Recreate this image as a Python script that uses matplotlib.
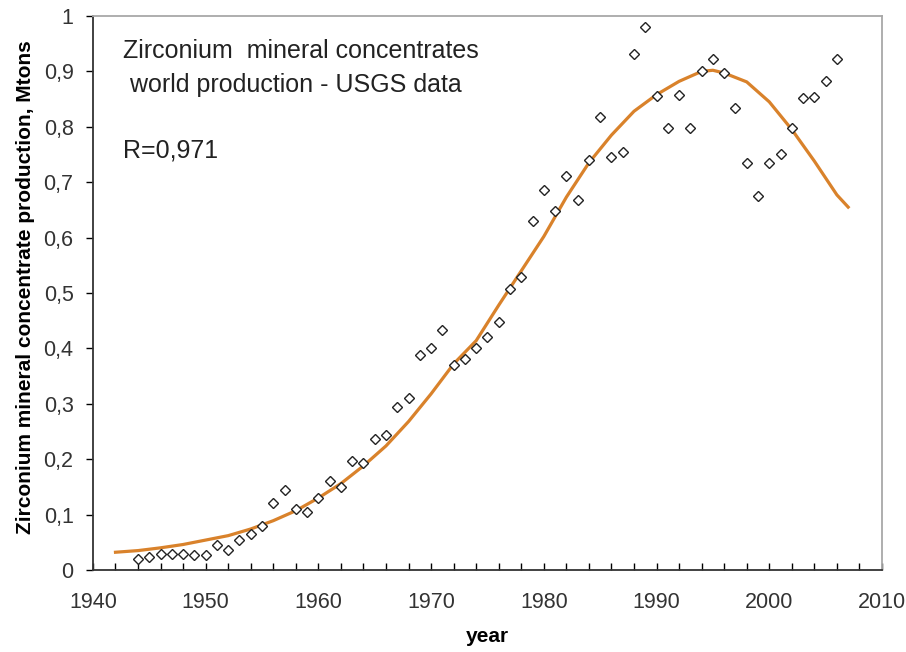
import matplotlib.pyplot as plt
from matplotlib.ticker import FixedLocator, FuncFormatter

plt.rcParams["font.family"] = ["Liberation Sans", "DejaVu Sans"]

# USGS world production of zirconium mineral concentrates, Mtons
years = list(range(1944, 2007))
production = [
    0.020, 0.023, 0.028, 0.028, 0.028, 0.027, 0.027, 0.045, 0.036, 0.055,
    0.065, 0.080, 0.120, 0.145, 0.110, 0.105, 0.130, 0.160, 0.150, 0.196,
    0.193, 0.237, 0.243, 0.295, 0.310, 0.388, 0.400, 0.433, 0.370, 0.380,
    0.400, 0.420, 0.448, 0.508, 0.528, 0.630, 0.685, 0.648, 0.712, 0.668,
    0.740, 0.817, 0.745, 0.755, 0.932, 0.980, 0.855, 0.797, 0.858, 0.797,
    0.900, 0.922, 0.897, 0.833, 0.735, 0.675, 0.735, 0.750, 0.797, 0.852,
    0.853, 0.882, 0.922,
]

# fitted curve
fit_years = [1942, 1944, 1946, 1948, 1950, 1952, 1954, 1956, 1958, 1960,
             1962, 1964, 1966, 1968, 1970, 1972, 1974, 1976, 1978, 1980,
             1982, 1984, 1986, 1988, 1990, 1992, 1994, 1995, 1996, 1998,
             2000, 2002, 2004, 2006, 2007]
fit_values = [0.032, 0.035, 0.040, 0.046, 0.054, 0.062, 0.074, 0.089, 0.107, 0.130,
              0.156, 0.188, 0.224, 0.268, 0.318, 0.372, 0.414, 0.478, 0.540, 0.602,
              0.673, 0.735, 0.785, 0.828, 0.858, 0.882, 0.900, 0.902, 0.897, 0.881,
              0.845, 0.795, 0.738, 0.677, 0.655]

fig = plt.figure(figsize=(9.06, 6.52), dpi=100)
ax = fig.add_axes([0.1026, 0.1258, 0.8709, 0.8497])

ax.plot(fit_years, fit_values, color="#d9822b", lw=2.3, zorder=2)
ax.plot(years, production, ls="none", marker="D", markersize=5.5,
        markerfacecolor="white", markeredgecolor="#222222", markeredgewidth=1.0, zorder=3)

ax.set_xlim(1940, 2010)
ax.set_ylim(0, 1)

ax.xaxis.set_major_locator(FixedLocator(list(range(1940, 2011, 10))))
ax.xaxis.set_minor_locator(FixedLocator(list(range(1940, 2011, 2))))
ax.tick_params(axis="x", which="both", direction="in", length=5, width=1, pad=16,
               labelsize=15.5, labelcolor="#333333")
ax.yaxis.set_major_locator(FixedLocator([i / 10 for i in range(11)]))
ax.yaxis.set_major_formatter(FuncFormatter(lambda v, p: f"{v:g}".replace(".", ",")))
ax.tick_params(axis="y", direction="out", length=5, width=1, pad=9,
               labelsize=15.5, labelcolor="#333333")

ax.spines["left"].set_color("#333333")
ax.spines["bottom"].set_color("#333333")
ax.spines["top"].set_color("#a8a8a8")
ax.spines["right"].set_color("#a8a8a8")
for s in ax.spines.values():
    s.set_linewidth(1.3)

ax.set_xlabel("year", fontsize=15, fontweight="bold", labelpad=10)
ax.set_ylabel("Zirconium mineral concentrate production, Mtons", fontsize=15,
              fontweight="bold")
ax.yaxis.set_label_coords(-0.074, 0.51)

txt = dict(fontsize=18, va="baseline", ha="left", color="#222222")
ax.text(1942.65, 0.924, "Zirconium  mineral concentrates", **txt)
ax.text(1942.65, 0.863, " world production - USGS data", **txt)
ax.text(1942.65, 0.744, "R=0,971", **txt)

fig.savefig("out.png", dpi=100)
